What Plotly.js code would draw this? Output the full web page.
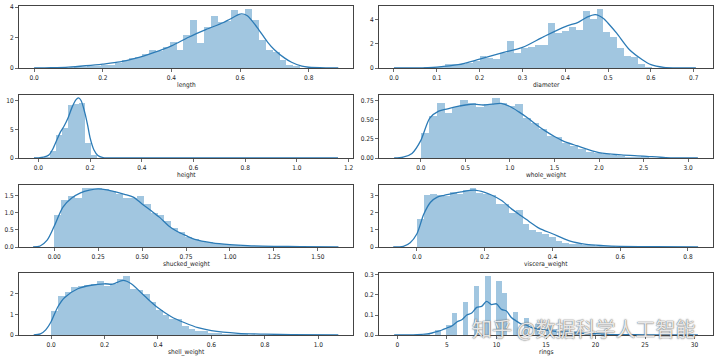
<!DOCTYPE html>
<html><head><meta charset="utf-8">
<script src="https://cdn.plot.ly/plotly-3.0.1.min.js"></script>
<style>body{margin:0;background:#fff;}#chart{width:720px;height:357px;}</style>
</head><body><div id="chart"></div>
<script>
// ---- variable names ----
const names = ["length","diameter","height","whole_weight","shucked_weight","viscera_weight","shell_weight","rings"];

// ---- histogram bins (start, width) and densities ----
const lengthBinStart = 0.075, lengthBinWidth = 0.02;
const lengthDensity = [0.02,0.02,0.04,0.06,0.1,0.15,0.22,0.17,0.35,0.55,0.65,0.72,0.9,1.18,1.12,1.4,1.72,1.2,2.19,3.17,1.64,2.67,3.39,3.0,3.1,3.83,3.5,3.87,3.17,1.86,1.2,1.03,0.55,0.22,0.1,0.03,0.01];

const diameterBinStart = 0.055, diameterBinWidth = 0.01608;
const diameterDensity = [0.02,0.05,0.06,0.1,0.3,0.3,0.3,0.45,0.6,1.0,0.85,0.75,1.25,2.25,1.2,1.65,1.75,1.85,1.9,3.7,2.9,3.05,3.4,3.1,4.7,4.05,4.85,2.95,2.55,1.65,1.0,0.9,0.3,0.1,0.03,0.01,0.01];

const heightBinStart = 0.0, heightBinWidth = 0.0226;
const heightDensity = [0.05,0.1,1.2,4.0,5.2,9.2,9.3,9.6,2.6,0.5,0.05,0,0,0,0,0,0,0,0,0,0,0,0.01,0,0,0,0,0,0,0,0,0,0,0,0,0,0,0,0,0,0,0,0,0,0,0,0,0,0,0.01];

const wholeBinStart = 0.002, wholeBinWidth = 0.0882;
const wholeDensity = [0.33,0.55,0.71,0.59,0.66,0.75,0.72,0.66,0.70,0.78,0.71,0.68,0.70,0.52,0.45,0.38,0.28,0.27,0.2,0.15,0.12,0.075,0.06,0.05,0.04,0.025,0.015,0.01,0.025,0.005,0.003,0.003];

const shuckedBinStart = 0.001, shuckedBinWidth = 0.03913;
const shuckedDensity = [0.92,1.37,1.48,1.42,1.70,1.71,1.72,1.69,1.62,1.55,1.42,1.43,1.48,1.25,0.98,0.92,0.75,0.55,0.45,0.30,0.22,0.17,0.14,0.11,0.08,0.06,0.05,0.03,0.03,0.02,0.02,0.015,0.01,0.01,0.005,0.005,0.003,0.003];

const visceraBinStart = 0.0005, visceraBinWidth = 0.01947;
const visceraDensity = [1.62,3.04,3.1,3.0,2.98,3.2,3.05,3.33,3.43,3.15,3.08,3.0,2.5,2.5,1.95,2.15,1.35,1.0,0.9,0.75,0.6,0.35,0.25,0.18,0.15,0.12,0.12,0.06,0.04,0.03,0.02,0.01,0.01,0.01,0.005,0.005,0.005,0.003,0.003];

const shellBinStart = 0.0015, shellBinWidth = 0.02448;
const shellDensity = [1.15,1.88,2.05,2.32,2.35,2.4,2.45,2.6,2.38,2.45,2.7,2.85,2.2,2.15,2.0,1.6,1.2,0.95,0.75,0.75,0.45,0.3,0.2,0.18,0.12,0.1,0.07,0.05,0.04,0.03,0.02,0.02,0.01,0.01,0.01,0.005,0.005,0.005,0.003,0.003,0.003];

const ringsBinStart = 1, ringsBinWidth = 0.56;
const ringsDensity = [0.0004,0.0004,0,0.006,0,0.024,0,0.049,0.111,0,0.167,0,0.243,0,0.295,0,0.271,0.208,0,0.114,0,0.087,0,0.054,0,0.044,0.029,0,0.025,0,0.018,0,0.014,0.011,0,0.006,0,0.003,0,0.004,0,0.001,0.0004,0,0.0004,0,0.001,0,0,0.0004];

// ---- KDE curves ----
const lengthKdeX = [0.0,0.05,0.1,0.15,0.2,0.25,0.3,0.35,0.4,0.45,0.5,0.55,0.57,0.6,0.62,0.65,0.68,0.7,0.73,0.75,0.78,0.8,0.85,0.886];
const lengthKdeY = [0.0,0.02,0.06,0.15,0.26,0.4,0.66,1.02,1.45,2.02,2.52,2.97,3.2,3.54,3.45,2.65,1.7,1.2,0.65,0.38,0.12,0.05,0.005,0.0];

const diameterKdeX = [0.0,0.05,0.1,0.15,0.2,0.25,0.3,0.35,0.4,0.43,0.45,0.47,0.49,0.5,0.52,0.55,0.58,0.6,0.63,0.67,0.705];
const diameterKdeY = [0.0,0.01,0.08,0.27,0.73,1.22,1.69,2.58,3.4,3.75,4.16,4.38,4.05,3.67,2.86,1.5,0.68,0.27,0.05,0.005,0.0];

const heightKdeX = [-0.017,0.0,0.02,0.04,0.055,0.07,0.085,0.1,0.115,0.13,0.145,0.155,0.165,0.18,0.19,0.2,0.215,0.23,0.25,0.27,0.35,0.5,0.7,0.9,1.1,1.159];
const heightKdeY = [0.0,0.03,0.15,0.5,1.5,3.0,4.5,5.6,7.0,8.8,10.1,10.45,10.0,7.8,5.8,3.5,1.4,0.45,0.08,0.02,0.01,0.01,0.01,0.01,0.01,0.0];

const wholeKdeX = [-0.3,-0.2,-0.1,0.0,0.1,0.2,0.3,0.4,0.5,0.6,0.7,0.8,0.9,1.0,1.1,1.2,1.3,1.4,1.5,1.6,1.75,2.0,2.25,2.5,2.75,3.11];
const wholeKdeY = [0.0,0.01,0.06,0.23,0.52,0.61,0.64,0.67,0.69,0.7,0.69,0.7,0.71,0.67,0.6,0.52,0.43,0.35,0.28,0.22,0.16,0.07,0.04,0.025,0.005,0.0];

const shuckedKdeX = [-0.12,-0.08,-0.04,0.0,0.05,0.1,0.15,0.2,0.25,0.3,0.35,0.4,0.45,0.5,0.55,0.6,0.65,0.7,0.75,0.8,0.9,1.0,1.1,1.25,1.4,1.617];
const shuckedKdeY = [0.0,0.03,0.2,0.6,1.16,1.42,1.57,1.65,1.69,1.66,1.6,1.53,1.45,1.25,1.06,0.86,0.62,0.45,0.33,0.22,0.12,0.07,0.04,0.02,0.01,0.0];

const visceraKdeX = [-0.07,-0.04,-0.02,0.0,0.02,0.04,0.06,0.08,0.1,0.13,0.17,0.2,0.22,0.25,0.28,0.3,0.33,0.36,0.4,0.45,0.5,0.55,0.6,0.7,0.83];
const visceraKdeY = [0.0,0.04,0.25,0.77,1.9,2.6,2.9,3.0,3.08,3.2,3.3,3.17,3.02,2.7,2.2,1.92,1.5,1.1,0.77,0.35,0.15,0.08,0.04,0.015,0.0];

const shellKdeX = [-0.065,-0.04,-0.02,0.0,0.025,0.05,0.1,0.15,0.2,0.23,0.27,0.3,0.35,0.4,0.45,0.5,0.55,0.6,0.7,0.8,0.9,1.075];
const shellKdeY = [0.0,0.05,0.25,0.64,1.35,1.8,2.23,2.4,2.47,2.45,2.63,2.47,1.88,1.31,0.88,0.59,0.35,0.21,0.08,0.04,0.02,0.0];

const ringsKdeX = [-0.33,1,2,3,3.5,4,4.5,5,5.5,6,6.5,7,7.5,8,8.5,9,9.5,10,10.5,11,11.5,12,12.5,13,13.5,14,14.5,15,16,17,18,19,20,21,22,23,25,27,29,30.33];
const ringsKdeY = [0.0,0.0005,0.002,0.006,0.01,0.017,0.025,0.035,0.045,0.065,0.076,0.1,0.11,0.138,0.143,0.168,0.152,0.156,0.128,0.12,0.088,0.07,0.055,0.05,0.038,0.032,0.027,0.025,0.018,0.014,0.011,0.008,0.0065,0.004,0.002,0.002,0.0006,0.0006,0.0003,0.0];

// ---- assemble ----
const panels = [
  {start:lengthBinStart, width:lengthBinWidth, dens:lengthDensity, kx:lengthKdeX, ky:lengthKdeY},
  {start:diameterBinStart, width:diameterBinWidth, dens:diameterDensity, kx:diameterKdeX, ky:diameterKdeY},
  {start:heightBinStart, width:heightBinWidth, dens:heightDensity, kx:heightKdeX, ky:heightKdeY},
  {start:wholeBinStart, width:wholeBinWidth, dens:wholeDensity, kx:wholeKdeX, ky:wholeKdeY},
  {start:shuckedBinStart, width:shuckedBinWidth, dens:shuckedDensity, kx:shuckedKdeX, ky:shuckedKdeY},
  {start:visceraBinStart, width:visceraBinWidth, dens:visceraDensity, kx:visceraKdeX, ky:visceraKdeY},
  {start:shellBinStart, width:shellBinWidth, dens:shellDensity, kx:shellKdeX, ky:shellKdeY},
  {start:ringsBinStart, width:ringsBinWidth, dens:ringsDensity, kx:ringsKdeX, ky:ringsKdeY}
];

// axis settings (layout only)
const axisCfg = [
  {xr:[-0.044,0.929], xd:0.2, xf:'.1f', yr:[0,4.07], yd:2, yf:'d'},
  {xr:[-0.035,0.745], xd:0.1, xf:'.1f', yr:[0,5.09], yd:2, yf:'d'},
  {xr:[-0.075,1.217], xd:0.2, xf:'.1f', yr:[0,10.95], yd:5, yf:'d'},
  {xr:[-0.47,3.28], xd:0.5, xf:'.1f', yr:[0,0.82], yd:0.25, yf:'.2f'},
  {xr:[-0.2,1.70], xd:0.25, xf:'.2f', yr:[0,1.8], yd:0.5, yf:'.1f'},
  {xr:[-0.112,0.874], xd:0.2, xf:'.1f', yr:[0,3.6], yd:1, yf:'d'},
  {xr:[-0.12,1.13], xd:0.2, xf:'.1f', yr:[0,2.99], yd:1, yf:'d'},
  {xr:[-1.86,31.86], xd:5, xf:'d', yr:[0,0.31], yd:0.1, yf:'.1f'}
];
const colX = [[0.0264,0.4903],[0.5264,0.9903]];
const rowY = [[0.8095,0.9832],[0.5574,0.7339],[0.3081,0.4818],[0.0616,0.2353]];

const FONT = '"DejaVu Sans Condensed", "DejaVu Sans", sans-serif';
const barColor = 'rgba(31,119,180,0.42)';
const lineColor = '#2c7bb6';

const traces = [];
const layout = {
  width:720, height:357,
  margin:{l:0,r:0,t:0,b:0},
  paper_bgcolor:'#fff', plot_bgcolor:'#fff',
  showlegend:false, bargap:0,
  font:{family:FONT, size:7, color:'#222'},
  annotations:[]
};

panels.forEach((p,i)=>{
  const k = i+1;
  const xs = p.dens.map((_,j)=>p.start + (j+0.5)*p.width);
  traces.push({type:'bar', x:xs, y:p.dens, width:p.width, xaxis:'x'+k, yaxis:'y'+k,
    marker:{color:barColor, line:{width:0}}, hoverinfo:'skip'});
  traces.push({type:'scatter', mode:'lines', x:p.kx, y:p.ky, xaxis:'x'+k, yaxis:'y'+k,
    line:{color:lineColor, width:1.3, shape:'spline', smoothing:0.8}, hoverinfo:'skip'});
  const a = axisCfg[i];
  const common = {showline:true, mirror:true, linecolor:'#444', linewidth:1, ticks:'outside',
    ticklen:3, tickwidth:0.8, tickcolor:'#444', showgrid:false, zeroline:false,
    tickfont:{family:FONT, size:6.5, color:'#222'}, tick0:0};
  const dx = colX[i%2], dy = rowY[Math.floor(i/2)];
  layout['xaxis'+k] = Object.assign({}, common, {
    domain: dx, anchor:'y'+k, range:a.xr, dtick:a.xd, tickformat:a.xf
  });
  layout['yaxis'+k] = Object.assign({}, common, {
    domain: dy, anchor:'x'+k, range:a.yr, dtick:a.yd, tickformat:a.yf
  });
  layout.annotations.push({xref:'paper', yref:'paper', x:(dx[0]+dx[1])/2, y:dy[0],
    xanchor:'center', yanchor:'middle', yshift:-17, showarrow:false, text:names[i],
    font:{family:FONT, size:6.5, color:'#222'}});
});

layout.annotations.push({
  xref:'paper', yref:'paper', x:0.81, y:0.081, xanchor:'center', yanchor:'middle',
  text:'知乎 @数据科学人工智能', showarrow:false,
  font:{family:'"Noto Sans CJK SC", sans-serif', size:20, color:'rgba(255,255,255,0.85)',
        shadow:'0 0 1.5px rgba(80,80,80,0.9), 0 0 1px rgba(80,80,80,0.9)'}
});

Plotly.newPlot('chart', traces, layout, {staticPlot:true, displayModeBar:false});
</script></body></html>
